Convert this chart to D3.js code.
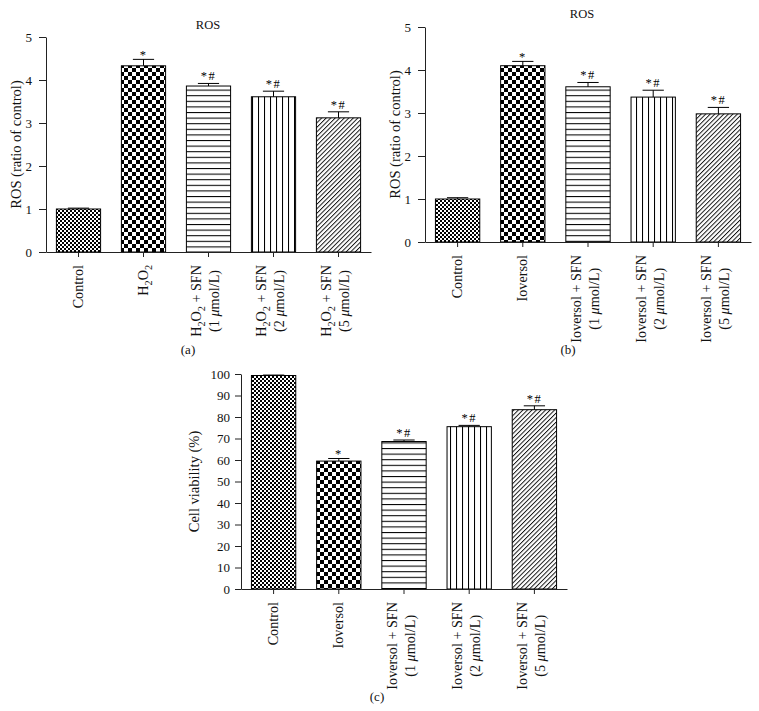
<!DOCTYPE html>
<html>
<head>
<meta charset="utf-8">
<script src="https://cdn.jsdelivr.net/npm/d3@7/dist/d3.min.js"></script>
<style>
  html, body { margin: 0; padding: 0; background: #fff; }
  svg { display: block; font-family: "Liberation Serif", "DejaVu Serif", serif; }
</style>
</head>
<body>
<script>
// ---------------- data ----------------
const labelsA = [["Control"], ["H_2O_2"], ["H_2O_2 + SFN", "(1 μmol/L)"], ["H_2O_2 + SFN", "(2 μmol/L)"], ["H_2O_2 + SFN", "(5 μmol/L)"]];
const labelsBC = [["Control"], ["Ioversol"], ["Ioversol + SFN", "(1 μmol/L)"], ["Ioversol + SFN", "(2 μmol/L)"], ["Ioversol + SFN", "(5 μmol/L)"]];
const valuesA = [1.00, 4.33, 3.86, 3.61, 3.12];
const errorsA = [0.02, 0.15, 0.06, 0.13, 0.14];
const valuesB = [1.00, 4.10, 3.61, 3.37, 2.98];
const errorsB = [0.03, 0.10, 0.10, 0.16, 0.15];
const valuesC = [99.3, 59.5, 68.6, 75.5, 83.4];
const errorsC = [0.2, 1.2, 0.7, 0.6, 1.8];
const marks = ["", "*", "*#", "*#", "*#"];
const ticksROS = [0, 1, 2, 3, 4, 5];
const ticksViability = [0, 10, 20, 30, 40, 50, 60, 70, 80, 90, 100];
const patternIds = ["pFine", "pCoarse", "pHoriz", "pVert", "pDiag"];

const FONT = "Liberation Serif";

// ---------------- svg ----------------
const svg = d3.select("body").append("svg").attr("width", 759).attr("height", 711);
const defs = svg.append("defs");

// fine checker
let p = defs.append("pattern").attr("id", "pFine").attr("patternUnits", "userSpaceOnUse").attr("width", 4).attr("height", 4);
p.append("rect").attr("width", 4).attr("height", 4).attr("fill", "#fff");
p.append("rect").attr("width", 2).attr("height", 2).attr("fill", "#000");
p.append("rect").attr("x", 2).attr("y", 2).attr("width", 2).attr("height", 2).attr("fill", "#000");
// coarse checker
p = defs.append("pattern").attr("id", "pCoarse").attr("patternUnits", "userSpaceOnUse").attr("width", 8).attr("height", 8);
p.append("rect").attr("width", 8).attr("height", 8).attr("fill", "#fff");
p.append("rect").attr("width", 4).attr("height", 4).attr("fill", "#000");
p.append("rect").attr("x", 4).attr("y", 4).attr("width", 4).attr("height", 4).attr("fill", "#000");
// horizontal lines
p = defs.append("pattern").attr("id", "pHoriz").attr("patternUnits", "userSpaceOnUse").attr("width", 10).attr("height", 5.6);
p.append("rect").attr("width", 10).attr("height", 5.6).attr("fill", "#fff");
p.append("line").attr("x1", 0).attr("x2", 10).attr("y1", 0.5).attr("y2", 0.5).attr("stroke", "#000").attr("stroke-width", 1.1);
// vertical lines
p = defs.append("pattern").attr("id", "pVert").attr("patternUnits", "userSpaceOnUse").attr("width", 6).attr("height", 10);
p.append("rect").attr("width", 6).attr("height", 10).attr("fill", "#fff");
p.append("line").attr("x1", 0.5).attr("x2", 0.5).attr("y1", 0).attr("y2", 10).attr("stroke", "#000").attr("stroke-width", 1.1);
// diagonal lines
p = defs.append("pattern").attr("id", "pDiag").attr("patternUnits", "userSpaceOnUse").attr("width", 3.2).attr("height", 10).attr("patternTransform", "rotate(45)");
p.append("rect").attr("width", 3.2).attr("height", 10).attr("fill", "#fff");
p.append("line").attr("x1", 0.5).attr("x2", 0.5).attr("y1", 0).attr("y2", 10).attr("stroke", "#000").attr("stroke-width", 0.9);

// rich text: "_x" -> subscript x, "μ" -> italic
function addRich(textSel, str, fs) {
  let i = 0;
  let pendingDy = 0;
  const shift = fs * 0.28;
  while (i < str.length) {
    const c = str[i];
    if (c === "_") {
      textSel.append("tspan").attr("font-size", fs * 0.72).attr("dy", shift + pendingDy).text(str[i + 1]);
      pendingDy = -shift;
      i += 2;
    } else if (c === "μ") {
      const t = textSel.append("tspan").attr("font-style", "italic").text("μ");
      if (pendingDy) { t.attr("dy", pendingDy); pendingDy = 0; }
      i += 1;
    } else {
      let j = i;
      while (j < str.length && str[j] !== "_" && str[j] !== "μ") j++;
      const t = textSel.append("tspan").text(str.slice(i, j));
      if (pendingDy) { t.attr("dy", pendingDy); pendingDy = 0; }
      i = j;
    }
  }
}

function drawPanel(cfg) {
  const g = svg.append("g");
  const x = d3.scaleBand().domain(d3.range(cfg.values.length)).range([cfg.x0, cfg.x1])
    .paddingInner(0.32).paddingOuter(0.16);
  const y = d3.scaleLinear().domain([0, cfg.max]).range([cfg.y0, cfg.y1]);

  // bars
  g.selectAll("rect.bar").data(cfg.values).join("rect")
    .attr("class", "bar")
    .attr("x", (d, i) => x(i))
    .attr("width", x.bandwidth())
    .attr("y", d => y(d))
    .attr("height", d => y(0) - y(d))
    .attr("fill", (d, i) => `url(#${patternIds[i]})`)
    .attr("stroke", "#000").attr("stroke-width", 1);

  // error bars
  const cap = x.bandwidth() * 0.48;
  cfg.values.forEach((v, i) => {
    const cx = x(i) + x.bandwidth() / 2;
    const top = y(v + cfg.errors[i]);
    g.append("line").attr("x1", cx).attr("x2", cx).attr("y1", y(v)).attr("y2", top).attr("stroke", "#000").attr("stroke-width", 1);
    g.append("line").attr("x1", cx - cap / 2).attr("x2", cx + cap / 2).attr("y1", top).attr("y2", top).attr("stroke", "#000").attr("stroke-width", 1);
    if (marks[i]) {
      g.append("text").attr("x", cx).attr("y", top - (marks[i] === "*" ? 0 : 3))
        .attr("text-anchor", "middle").attr("font-size", 12.5).attr("letter-spacing", 1.5)
        .attr("fill", "#000").attr("font-family", FONT)
        .text(marks[i]);
    }
  });

  // axes
  const yAxis = d3.axisLeft(y).tickValues(cfg.ticks).tickFormat(d3.format("d"))
    .tickSize(cfg.tickSize).tickPadding(cfg.tickPad).tickSizeOuter(0);
  const ya = g.append("g").attr("transform", `translate(${cfg.x0},0)`).call(yAxis)
    .attr("font-family", FONT).attr("font-size", 13);
  ya.selectAll("text").attr("fill", "#111");
  ya.selectAll("line,path").attr("stroke", "#222");

  const xAxis = d3.axisBottom(x).tickSize(5).tickSizeOuter(0).tickFormat("");
  const xa = g.append("g").attr("transform", `translate(0,${cfg.y0})`).call(xAxis);
  xa.selectAll("line,path").attr("stroke", "#222");

  // rotated category labels
  const fs = 14.2;
  cfg.labels.forEach((lines, i) => {
    const cx = x(i) + x.bandwidth() / 2;
    const lg = g.append("g").attr("transform", `translate(${cx},${cfg.y0 + 13}) rotate(-90)`)
      .attr("font-family", FONT).attr("font-size", fs).attr("fill", "#111");
    if (lines.length === 1) {
      const t = lg.append("text").attr("text-anchor", "end").attr("x", 0).attr("y", fs * 0.33);
      addRich(t, lines[0], fs);
    } else {
      const t1 = lg.append("text").attr("text-anchor", "end").attr("x", 0).attr("y", -7.5);
      addRich(t1, lines[0], fs);
      const t2 = lg.append("text").attr("text-anchor", "end").attr("x", 0).attr("y", 10.5);
      addRich(t2, lines[1], fs);
      const l1 = t1.node().getComputedTextLength();
      const l2 = t2.node().getComputedTextLength();
      t2.attr("x", -(l1 - l2) / 2);
    }
  });

  // title
  if (cfg.title) {
    g.append("text").attr("x", cfg.titleX).attr("y", cfg.titleY).attr("text-anchor", "middle")
      .attr("font-family", FONT).attr("font-size", 12.5).attr("fill", "#111").text(cfg.title);
  }
  // y label
  g.append("text").attr("transform", `translate(${cfg.ylabX},${(cfg.y0 + cfg.y1) / 2}) rotate(-90)`)
    .attr("text-anchor", "middle").attr("font-family", FONT).attr("font-size", 14.5).attr("fill", "#111").text(cfg.ylabel);
  // caption
  g.append("text").attr("x", cfg.capX).attr("y", cfg.capY).attr("text-anchor", "middle")
    .attr("font-family", FONT).attr("font-size", 13).attr("fill", "#111").text(cfg.caption);
}

drawPanel({
  x0: 46, x1: 371, y0: 252, y1: 37, max: 5, ticks: ticksROS, tickSize: 7, tickPad: 7,
  values: valuesA, errors: errorsA, labels: labelsA,
  title: "ROS", titleX: 208, titleY: 29, ylabel: "ROS (ratio of control)", ylabX: 21,
  caption: "(a)", capX: 188, capY: 354
});
drawPanel({
  x0: 425, x1: 751, y0: 242, y1: 27, max: 5, ticks: ticksROS, tickSize: 7, tickPad: 7,
  values: valuesB, errors: errorsB, labels: labelsBC,
  title: "ROS", titleX: 582, titleY: 18, ylabel: "ROS (ratio of control)", ylabX: 400,
  caption: "(b)", capX: 568, capY: 354
});
drawPanel({
  x0: 241, x1: 567, y0: 589, y1: 374, max: 100, ticks: ticksViability, tickSize: 6, tickPad: 5,
  values: valuesC, errors: errorsC, labels: labelsBC,
  title: "", ylabel: "Cell viability (%)", ylabX: 199,
  caption: "(c)", capX: 377, capY: 701
});
</script>
</body>
</html>
